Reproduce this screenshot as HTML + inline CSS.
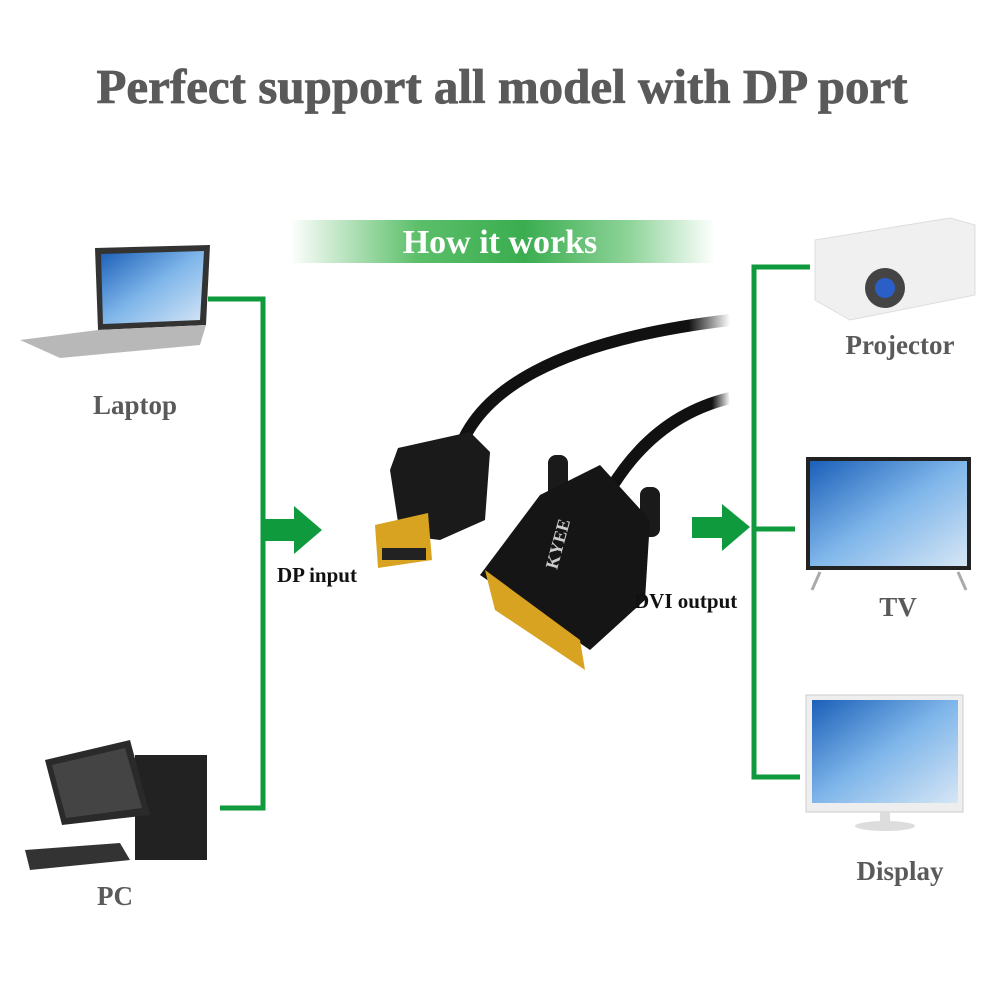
<!DOCTYPE html>
<html><head><meta charset="utf-8"><style>
html,body{margin:0;padding:0;background:#fff}
svg{display:block}
text{font-family:"Liberation Serif",serif;font-weight:bold}
</style></head><body>
<svg width="1001" height="1001" viewBox="0 0 1001 1001" xmlns="http://www.w3.org/2000/svg">
<defs>
<linearGradient id="bn" x1="0" x2="1">
<stop offset="0" stop-color="#fff"/><stop offset="0.3" stop-color="#5cbf6a"/><stop offset="0.55" stop-color="#3aad4f"/><stop offset="0.8" stop-color="#8fd49a"/><stop offset="1" stop-color="#fff"/>
</linearGradient>
<linearGradient id="sc" x1="0" y1="0" x2="1" y2="1">
<stop offset="0" stop-color="#1b5fb8"/><stop offset="0.5" stop-color="#7fb6ea"/><stop offset="1" stop-color="#d6e6f5"/>
</linearGradient>
<linearGradient id="cab" x1="0" x2="1"><stop offset="0.85" stop-color="#111"/><stop offset="1" stop-color="#fff"/></linearGradient>
</defs>
<text x="502" y="103" font-size="49" fill="#5a5a5a" text-anchor="middle" stroke="#5a5a5a" stroke-width="0.8">Perfect support all model with DP port</text>
<rect x="290" y="220" width="425" height="43" fill="url(#bn)"/>
<text x="500" y="253" font-size="34" fill="#fff" text-anchor="middle">How it works</text>
<polyline points="208,299 263,299 263,808 220,808" fill="none" stroke="#0f9a3e" stroke-width="5"/>
<polygon points="263,519 294,519 294,506 322,530 294,554 294,541 263,541" fill="#0f9a3e"/>
<polyline points="810,267 754,267 754,777 800,777" fill="none" stroke="#0f9a3e" stroke-width="5"/>
<line x1="754" y1="529" x2="795" y2="529" stroke="#0f9a3e" stroke-width="5"/>
<polygon points="692,517 722,517 722,504 750,527 722,551 722,538 692,538" fill="#0f9a3e"/>
<path d="M455,465 C470,390 560,340 730,320" fill="none" stroke="url(#cab)" stroke-width="12"/>
<path d="M610,490 C640,440 680,410 730,398" fill="none" stroke="url(#cab)" stroke-width="12"/>
<polygon points="398,448 470,432 490,452 485,520 440,540 400,535 390,470" fill="#1a1a1a"/>
<polygon points="375,525 428,513 432,560 378,568" fill="#d8a320"/>
<rect x="382" y="548" width="44" height="12" fill="#222"/>
<rect x="548" y="455" width="20" height="48" rx="8" fill="#1a1a1a"/>
<rect x="640" y="487" width="20" height="50" rx="8" fill="#1a1a1a"/>
<polygon points="540,495 600,465 650,520 645,600 590,650 480,575" fill="#151515"/>
<polygon points="485,570 580,640 585,670 495,610" fill="#d8a320"/>
<text x="0" y="0" font-size="18" fill="#ccc" font-family="Liberation Sans" transform="translate(557,570) rotate(-75)">KYEE</text>
<text x="277" y="582" font-size="21" fill="#111">DP input</text>
<text x="634" y="608" font-size="21" fill="#111">DVI output</text>
<polygon points="95,248 210,245 206,325 98,330" fill="#333"/>
<polygon points="101,254 204,251 200,320 103,324" fill="url(#sc)"/>
<polygon points="20,340 98,330 206,325 200,345 60,358" fill="#b8b8b8"/>
<text x="135" y="414" font-size="27" fill="#5a5a5a" text-anchor="middle">Laptop</text>
<rect x="135" y="755" width="72" height="105" fill="#222"/>
<polygon points="45,760 130,740 150,815 62,825" fill="#2a2a2a"/>
<polygon points="52,765 125,748 142,808 66,818" fill="#444"/>
<polygon points="25,850 120,843 130,860 30,870" fill="#333"/>
<text x="115" y="905" font-size="27" fill="#5a5a5a" text-anchor="middle">PC</text>
<polygon points="815,240 950,218 975,225 975,295 850,320 815,300" fill="#f0f0f0" stroke="#ddd"/>
<circle cx="885" cy="288" r="20" fill="#444"/><circle cx="885" cy="288" r="10" fill="#2a5fc8"/>
<text x="900" y="354" font-size="27" fill="#5a5a5a" text-anchor="middle">Projector</text>
<rect x="806" y="457" width="165" height="113" fill="#222"/>
<rect x="810" y="461" width="157" height="105" fill="url(#sc)"/>
<line x1="820" y1="572" x2="812" y2="590" stroke="#aaa" stroke-width="3"/>
<line x1="958" y1="572" x2="966" y2="590" stroke="#aaa" stroke-width="3"/>
<text x="898" y="616" font-size="27" fill="#5a5a5a" text-anchor="middle">TV</text>
<rect x="806" y="695" width="157" height="117" fill="#eee" stroke="#ccc"/>
<rect x="812" y="700" width="146" height="103" fill="url(#sc)"/>
<rect x="880" y="812" width="10" height="12" fill="#ddd"/>
<ellipse cx="885" cy="826" rx="30" ry="5" fill="#ddd"/>
<text x="900" y="880" font-size="27" fill="#5a5a5a" text-anchor="middle">Display</text>
</svg>
</body></html>
